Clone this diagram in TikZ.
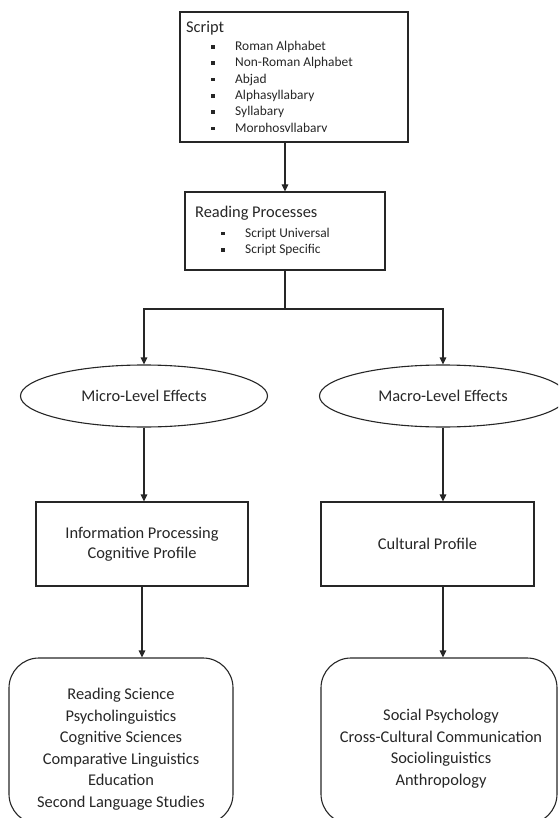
\documentclass[tikz,border=0pt]{standalone}
\usepackage{fontspec}
\setmainfont{Carlito}
\usetikzlibrary{arrows.meta,shapes.geometric}
\definecolor{inkgray}{HTML}{262626}
\begin{document}
\begin{tikzpicture}
[x=1pt,y=-1pt,%
  boxdecorate/.style={shape=rectangle,draw=inkgray,line width=1.1pt,inner sep=0pt},%
  ellipsedecorate/.style={shape=ellipse,draw=inkgray,line width=1.1pt,inner sep=0pt,%
    minimum width=247pt,minimum height=62pt,font=\fontsize{16.4}{20}\selectfont},%
  roundboxdecorate/.style={boxdecorate,rounded corners=30pt,minimum height=166pt},%
  headtext/.style={anchor=west,inner sep=0pt,text=inkgray,font=\fontsize{16.4}{20}\selectfont},%
  itemtext/.style={anchor=west,inner sep=0pt,text=inkgray,font=\fontsize{13.4}{16}\selectfont},%
  fieldtext/.style={align=center,inner sep=0pt,text=inkgray,font=\fontsize{16.4}{21.5}\selectfont},%
  bulletdecorate/.style={shape=rectangle,fill=inkgray,inner sep=0pt,minimum size=3.6pt},%
  linedecorate/.style={-,draw=inkgray,line width=1.1pt},%
  arrowdecorate/.style={-{Triangle[width=6.5pt,length=7pt]},draw=inkgray,line width=1.1pt}]
\useasboundingbox (0,0) rectangle (558,818);
\clip (0,0) rectangle (558,818);
%% script box
\node (script) at (294,77) [boxdecorate,minimum width=228pt,minimum height=130pt] {};
\node (scripthead) at (186,28) [headtext] {Script};
\begin{scope}
\clip (180,12) rectangle (408,132);
\foreach \itemname/\itemtext [count=\i from 0] in {roman/Roman Alphabet,
    nonroman/Non-Roman Alphabet, abjad/Abjad, alphasyl/Alphasyllabary,
    syllabary/Syllabary, morphosyl/Morphosyllabary} {
  \node (\itemname-b) at (213,{47+16.3*\i}) [bulletdecorate] {};
  \node (\itemname) at (235,{47+16.3*\i}) [itemtext] {\itemtext};
}
\end{scope}
%% reading processes box
\node (reading) at (285,231) [boxdecorate,minimum width=200pt,minimum height=78pt] {};
\node (readinghead) at (195,213) [headtext] {Reading Processes};
\foreach \itemname/\itemtext/\y in {universal/Script Universal/233.5, specific/Script Specific/250} {
  \node (\itemname-b) at (223,\y) [bulletdecorate] {};
  \node (\itemname) at (245,\y) [itemtext] {\itemtext};
}
%% effects
\node (micro) at (144,396) [ellipsedecorate,text=inkgray] {Micro-Level Effects};
\node (macro) at (443,396) [ellipsedecorate,text=inkgray] {Macro-Level Effects};
%% profiles
\node (infoproc) at (142,544) [boxdecorate,minimum width=212pt,minimum height=84pt,%
  fieldtext,font=\fontsize{16.4}{20}\selectfont] {Information Processing\\Cognitive Profile};
\node (cultural) at (427.5,544) [boxdecorate,minimum width=213pt,minimum height=84pt,%
  fieldtext] {Cultural Profile};
%% fields
\node (fieldsleft) at (121,741) [roundboxdecorate,minimum width=224pt] {};
\node (fieldsright) at (439,741) [roundboxdecorate,minimum width=236pt] {};
\node (leftlist) at (121,749) [fieldtext] {Reading Science\\Psycholinguistics\\Cognitive Sciences\\%
  Comparative Linguistics\\Education\\Second Language Studies};
\node (rightlist) at (441,748.5) [fieldtext] {Social Psychology\\Cross-Cultural Communication\\%
  Sociolinguistics\\Anthropology};
%% edges or lines
\coordinate (split) at (285,309);
\draw[arrowdecorate] (reading.north |- script.south) -- (reading.north);
\draw[linedecorate] (reading.south) -- (split);
\draw[arrowdecorate] (split) -| (micro.north);
\draw[arrowdecorate] (split) -| (macro.north);
\draw[arrowdecorate] (micro.south) -- (micro.south |- infoproc.north);
\draw[arrowdecorate] (macro.south) -- (macro.south |- cultural.north);
\draw[arrowdecorate] (infoproc.south) -- (infoproc.south |- fieldsleft.north);
\draw[arrowdecorate] (macro.south |- cultural.south) -- (macro.south |- fieldsright.north);
\end{tikzpicture}
\end{document}
